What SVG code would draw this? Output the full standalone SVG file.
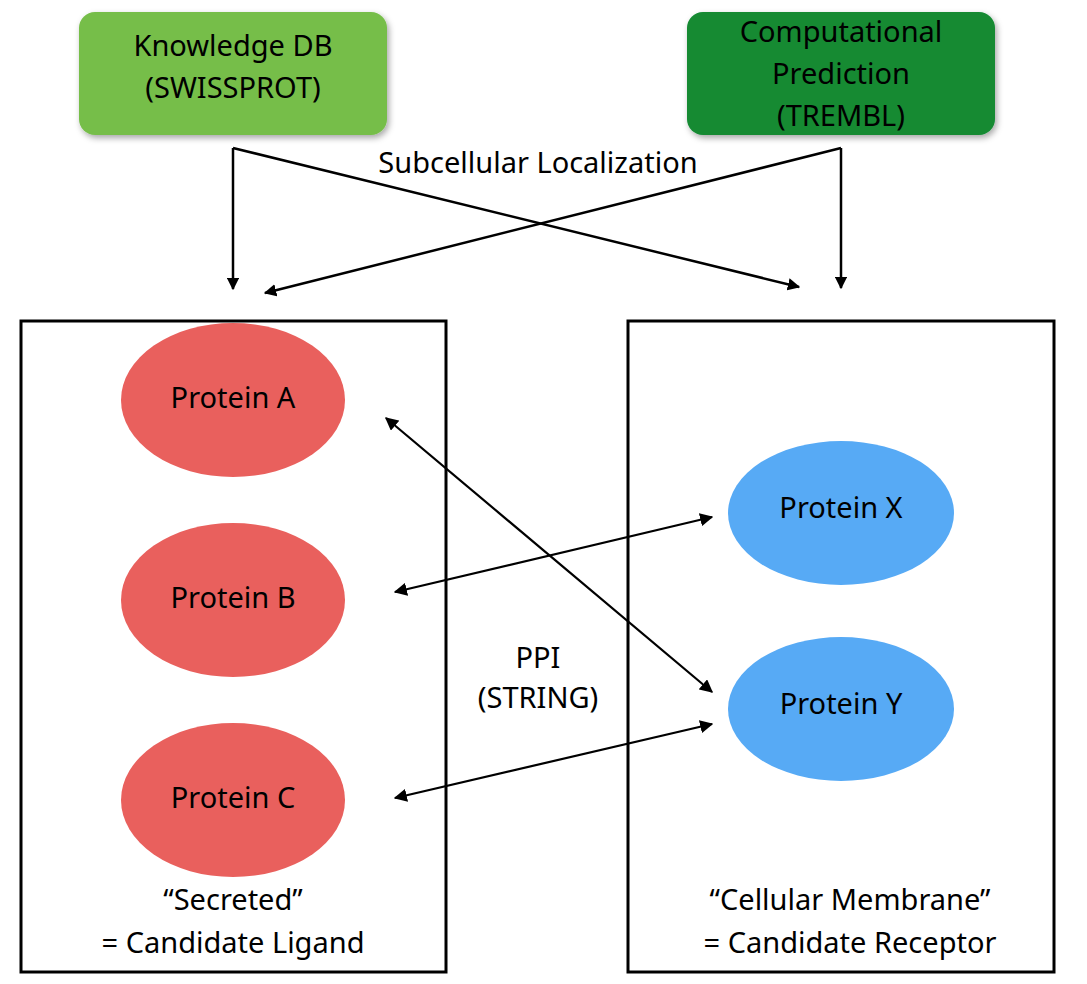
<svg xmlns="http://www.w3.org/2000/svg" width="1087" height="984" viewBox="0 0 1087 984">
<style>
text{font-family:"Noto Sans","Liberation Sans",sans-serif;font-size:29px;fill:#000;text-anchor:middle}
.box{fill:none;stroke:#000;stroke-width:3}
.red{fill:#e9605d}
.blue{fill:#57aaf5}
.ln{fill:none;stroke:#000;stroke-width:2.5}
.ln2{fill:none;stroke:#000;stroke-width:2.2}
</style>
<defs>
<marker id="ah" viewBox="0 0 10 10" refX="9" refY="5" markerWidth="5" markerHeight="5" orient="auto-start-reverse" markerUnits="strokeWidth"><path d="M0,0 L10,5 L0,10 z" fill="#000"/></marker>
<marker id="ah2" viewBox="0 0 10 10" refX="9" refY="5" markerWidth="6" markerHeight="6" orient="auto-start-reverse" markerUnits="strokeWidth"><path d="M0,0 L10,5 L0,10 z" fill="#000"/></marker>
<filter id="sh" x="-10%" y="-10%" width="125%" height="130%"><feDropShadow dx="2" dy="3" stdDeviation="3" flood-opacity="0.35"/></filter>
</defs>
<g id="kdb"><rect x="79" y="12" width="308" height="123" rx="16" fill="#76be4a" filter="url(#sh)"/><text x="233" y="56">Knowledge DB</text><text x="233" y="98">(SWISSPROT)</text></g>
<g id="cp"><rect x="687" y="12" width="308" height="123" rx="16" fill="#138a33" filter="url(#sh)"/><text x="841" y="42">Computational</text><text x="841" y="84">Prediction</text><text x="841" y="126">(TREMBL)</text></g>
<g id="secreted"><rect class="box" x="21" y="321" width="425" height="651"/><text x="233" y="910">“Secreted”</text><text x="233" y="953">= Candidate Ligand</text></g>
<g id="membrane"><rect class="box" x="628" y="321" width="426" height="651"/><text x="850" y="910">“Cellular Membrane”</text><text x="850" y="953">= Candidate Receptor</text></g>
<g id="pa"><ellipse class="red" cx="233" cy="400" rx="112" ry="77"/><text x="233" y="408">Protein A</text></g>
<g id="pb"><ellipse class="red" cx="233" cy="600" rx="112" ry="77"/><text x="233" y="608">Protein B</text></g>
<g id="pc"><ellipse class="red" cx="233" cy="800" rx="112" ry="77"/><text x="233" y="808">Protein C</text></g>
<g id="px"><ellipse class="blue" cx="841" cy="513" rx="113" ry="72"/><text x="841" y="518">Protein X</text></g>
<g id="py"><ellipse class="blue" cx="841" cy="709" rx="113" ry="72"/><text x="841" y="714">Protein Y</text></g>
<g id="connectors">
<path class="ln" d="M233,148 V289" marker-end="url(#ah)"/>
<path class="ln" d="M233,148 L799,287" marker-end="url(#ah)"/>
<path class="ln" d="M841,148 V288" marker-end="url(#ah)"/>
<path class="ln" d="M841,148 L265,293" marker-end="url(#ah)"/>
<path class="ln2" d="M386,418 L712,692" marker-start="url(#ah2)" marker-end="url(#ah2)"/>
<path class="ln2" d="M395,592 L712,517" marker-start="url(#ah2)" marker-end="url(#ah2)"/>
<path class="ln2" d="M395,798 L712,724" marker-start="url(#ah2)" marker-end="url(#ah2)"/>
</g>
<text x="538" y="173">Subcellular Localization</text>
<text x="538" y="668">PPI</text>
<text x="538" y="708">(STRING)</text>
</svg>
